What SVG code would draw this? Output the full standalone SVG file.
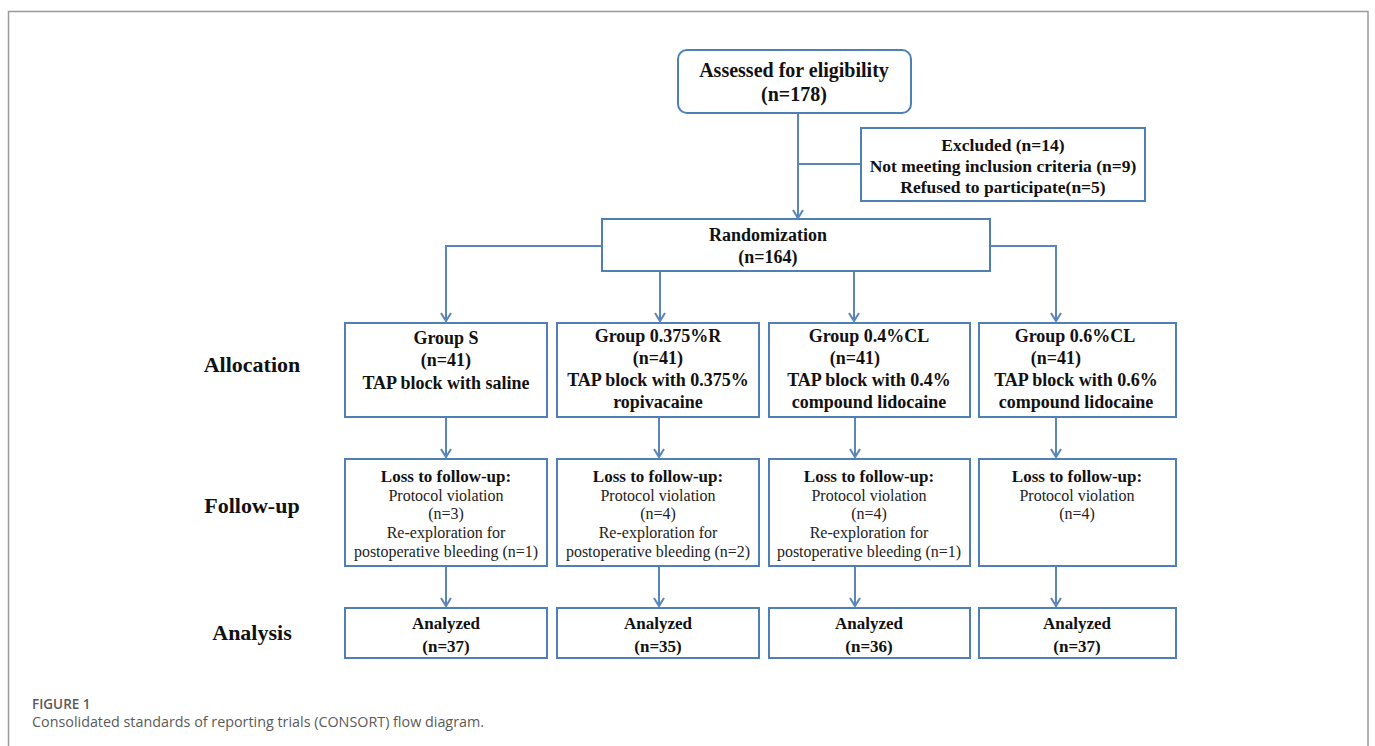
<svg xmlns="http://www.w3.org/2000/svg" width="1375" height="746" viewBox="0 0 1375 746">
<style>
.box{fill:#fff;stroke:#4f7fb5;stroke-width:2}
.ln{fill:none;stroke:#5a86ba;stroke-width:2}
.ah{fill:none;stroke:#5a86ba;stroke-width:2;stroke-linejoin:miter}
.b{font-family:"Liberation Serif","Times New Roman",serif;font-weight:bold;fill:#111;text-anchor:middle}
.r{font-family:"Liberation Serif","Times New Roman",serif;fill:#222;text-anchor:middle;font-size:16px}
.lab{font-family:"Liberation Serif","Times New Roman",serif;font-weight:bold;fill:#111;text-anchor:middle;font-size:22px}
.cap{font-family:"Open Sans",sans-serif;fill:#5a5a5a}
</style>
<defs>
<path id="arr" class="ah" d="M-5,-8 L0,0 L5,-8"/>
</defs>
<rect x="8.5" y="11.5" width="1359.5" height="760" fill="#fff" stroke="#9a9a9a" stroke-width="1.5"/>

<g id="assessed">
<rect class="box" x="678" y="50" width="233" height="63" rx="9"/>
<text class="b" x="794" y="77" font-size="20">Assessed for eligibility</text>
<text class="b" x="794" y="101" font-size="20">(n=178)</text>
</g>
<g id="excluded">
<rect class="box" x="861" y="128" width="284" height="73"/>
<text class="b" x="1003" y="151" font-size="17.5">Excluded (n=14)</text>
<text class="b" x="1003" y="172" font-size="17.5">Not meeting inclusion criteria (n=9)</text>
<text class="b" x="1003" y="193" font-size="17.5">Refused to participate(n=5)</text>
</g>
<g id="randomization">
<rect class="box" x="602" y="219" width="388" height="52"/>
<text class="b" x="768" y="241" font-size="18">Randomization</text>
<text class="b" x="768" y="263" font-size="18">(n=164)</text>
</g>

<g id="label-allocation"><text class="lab" x="252" y="372">Allocation</text></g>
<g id="label-followup"><text class="lab" x="252" y="513">Follow-up</text></g>
<g id="label-analysis"><text class="lab" x="252" y="640">Analysis</text></g>

<g id="group-s">
<rect class="box" x="345" y="323" width="202" height="94"/>
<text class="b" x="446" y="344" font-size="18">Group S</text>
<text class="b" x="446" y="366" font-size="18">(n=41)</text>
<text class="b" x="446" y="389" font-size="18">TAP block with saline</text>
</g>
<g id="group-r">
<rect class="box" x="557" y="323" width="202" height="94"/>
<text class="b" x="658" y="342" font-size="18">Group 0.375%R</text>
<text class="b" x="658" y="364" font-size="18">(n=41)</text>
<text class="b" x="658" y="386" font-size="18">TAP block with 0.375%</text>
<text class="b" x="658" y="408" font-size="18">ropivacaine</text>
</g>
<g id="group-cl4">
<rect class="box" x="769" y="323" width="201" height="94"/>
<text class="b" x="869" y="342" font-size="18">Group 0.4%CL</text>
<text class="b" x="855" y="364" font-size="18">(n=41)</text>
<text class="b" x="869" y="386" font-size="18">TAP block with 0.4%</text>
<text class="b" x="869" y="408" font-size="18">compound lidocaine</text>
</g>
<g id="group-cl6">
<rect class="box" x="979" y="323" width="197" height="94"/>
<text class="b" x="1075" y="342" font-size="18">Group 0.6%CL</text>
<text class="b" x="1056" y="364" font-size="18">(n=41)</text>
<text class="b" x="1076" y="386" font-size="18">TAP block with 0.6%</text>
<text class="b" x="1076" y="408" font-size="18">compound lidocaine</text>
</g>

<g id="follow-s">
<rect class="box" x="345" y="459" width="202" height="107"/>
<text class="b" x="446" y="482" font-size="17">Loss to follow-up:</text>
<text class="r" x="446" y="501">Protocol violation</text>
<text class="r" x="446" y="519">(n=3)</text>
<text class="r" x="446" y="538">Re-exploration for</text>
<text class="r" x="446" y="557" textLength="184" lengthAdjust="spacingAndGlyphs">postoperative bleeding (n=1)</text>
</g>
<g id="follow-r">
<rect class="box" x="557" y="459" width="202" height="107"/>
<text class="b" x="658" y="482" font-size="17">Loss to follow-up:</text>
<text class="r" x="658" y="501">Protocol violation</text>
<text class="r" x="658" y="519">(n=4)</text>
<text class="r" x="658" y="538">Re-exploration for</text>
<text class="r" x="658" y="557" textLength="184" lengthAdjust="spacingAndGlyphs">postoperative bleeding (n=2)</text>
</g>
<g id="follow-cl4">
<rect class="box" x="769" y="459" width="201" height="107"/>
<text class="b" x="869" y="482" font-size="17">Loss to follow-up:</text>
<text class="r" x="869" y="501">Protocol violation</text>
<text class="r" x="869" y="519">(n=4)</text>
<text class="r" x="869" y="538">Re-exploration for</text>
<text class="r" x="869" y="557" textLength="184" lengthAdjust="spacingAndGlyphs">postoperative bleeding (n=1)</text>
</g>
<g id="follow-cl6">
<rect class="box" x="979" y="459" width="197" height="107"/>
<text class="b" x="1077" y="482" font-size="17">Loss to follow-up:</text>
<text class="r" x="1077" y="501">Protocol violation</text>
<text class="r" x="1077" y="519">(n=4)</text>
</g>

<g id="analysis-s">
<rect class="box" x="345" y="608" width="202" height="50"/>
<text class="b" x="446" y="629" font-size="17">Analyzed</text>
<text class="b" x="446" y="652" font-size="17">(n=37)</text>
</g>
<g id="analysis-r">
<rect class="box" x="557" y="608" width="202" height="50"/>
<text class="b" x="658" y="629" font-size="17">Analyzed</text>
<text class="b" x="658" y="652" font-size="17">(n=35)</text>
</g>
<g id="analysis-cl4">
<rect class="box" x="769" y="608" width="201" height="50"/>
<text class="b" x="869" y="629" font-size="17">Analyzed</text>
<text class="b" x="869" y="652" font-size="17">(n=36)</text>
</g>
<g id="analysis-cl6">
<rect class="box" x="979" y="608" width="197" height="50"/>
<text class="b" x="1077" y="629" font-size="17">Analyzed</text>
<text class="b" x="1077" y="652" font-size="17">(n=37)</text>
</g>

<g id="connectors">
<line class="ln" x1="798" y1="114" x2="798" y2="218"/>
<line class="ln" x1="798" y1="164" x2="860" y2="164"/>
<polyline class="ln" points="601,246 446,246 446,321"/>
<polyline class="ln" points="991,246 1056,246 1056,321"/>
<line class="ln" x1="660" y1="272" x2="660" y2="321"/>
<line class="ln" x1="854" y1="272" x2="854" y2="321"/>
<line class="ln" x1="446" y1="418" x2="446" y2="457"/>
<line class="ln" x1="659" y1="418" x2="659" y2="457"/>
<line class="ln" x1="855" y1="418" x2="855" y2="457"/>
<line class="ln" x1="1056" y1="418" x2="1056" y2="457"/>
<line class="ln" x1="446" y1="567" x2="446" y2="606"/>
<line class="ln" x1="659" y1="567" x2="659" y2="606"/>
<line class="ln" x1="855" y1="567" x2="855" y2="606"/>
<line class="ln" x1="1056" y1="567" x2="1056" y2="606"/>
<use href="#arr" x="798" y="218"/>
<use href="#arr" x="446" y="321"/>
<use href="#arr" x="1056" y="321"/>
<use href="#arr" x="660" y="321"/>
<use href="#arr" x="854" y="321"/>
<use href="#arr" x="446" y="457"/>
<use href="#arr" x="659" y="457"/>
<use href="#arr" x="855" y="457"/>
<use href="#arr" x="1056" y="457"/>
<use href="#arr" x="446" y="606"/>
<use href="#arr" x="659" y="606"/>
<use href="#arr" x="855" y="606"/>
<use href="#arr" x="1056" y="606"/>
</g>

<g id="caption">
<text class="cap" x="32" y="709" font-size="13.5" font-weight="600">FIGURE 1</text>
<text class="cap" x="32" y="727" font-size="14.5" textLength="452" lengthAdjust="spacingAndGlyphs">Consolidated standards of reporting trials (CONSORT) flow diagram.</text>
</g>
</svg>
